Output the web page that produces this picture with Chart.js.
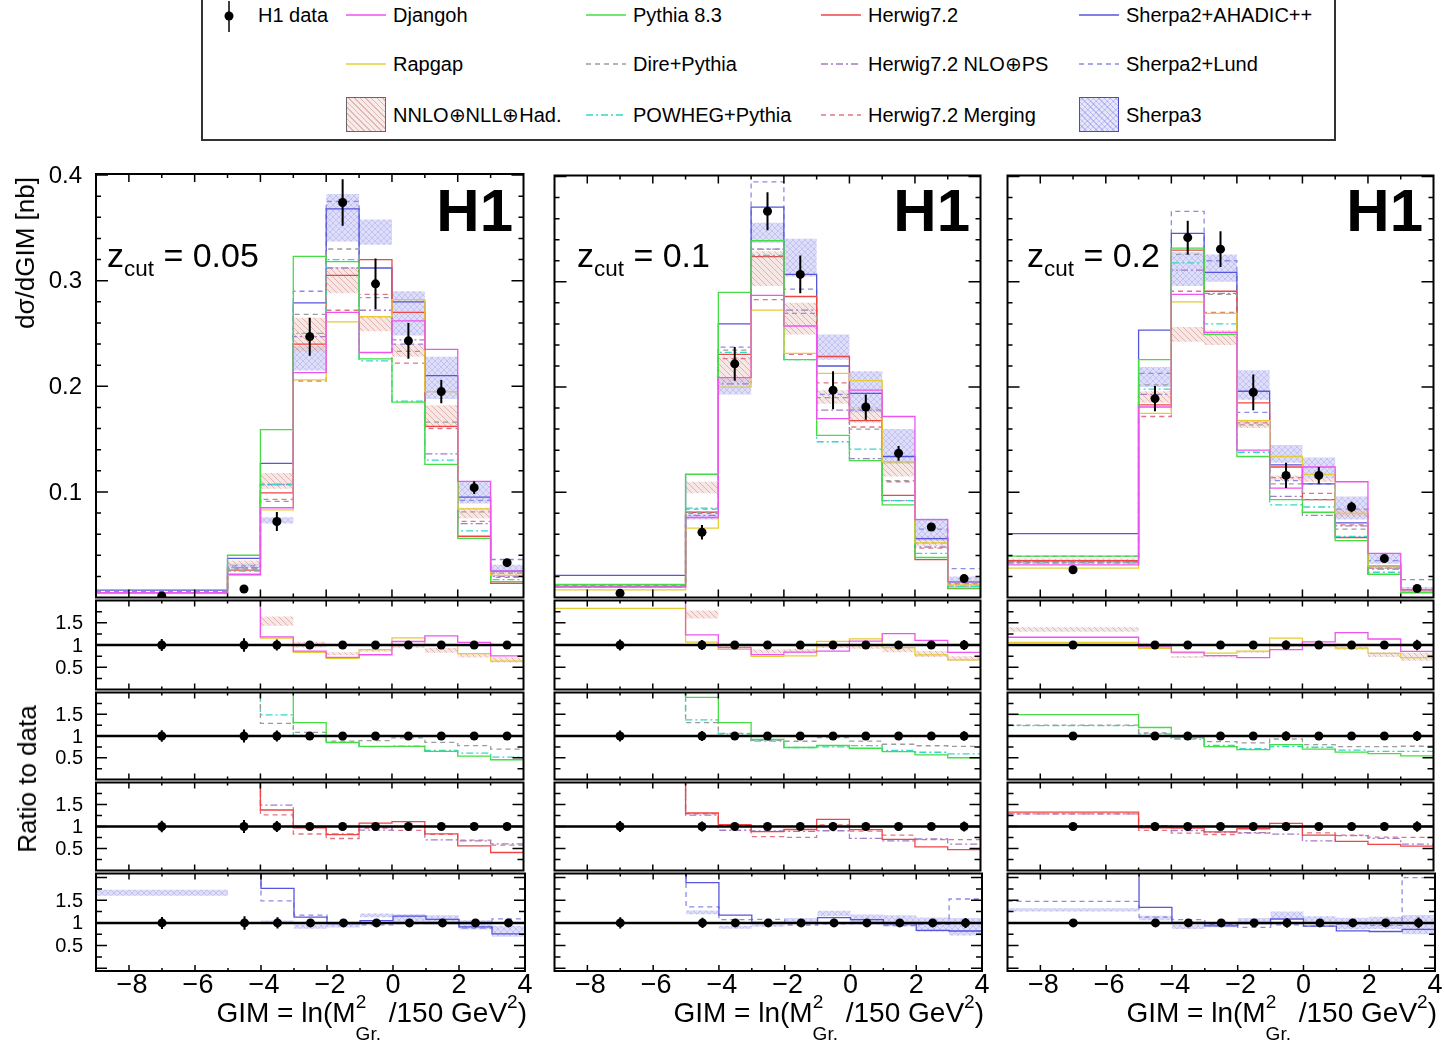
<!DOCTYPE html>
<html>
<head>
<meta charset="utf-8">
<script src="https://cdn.jsdelivr.net/npm/chart.js@4.4.1/dist/chart.umd.min.js"></script>
<style>
  html, body { margin: 0; padding: 0; background: #fff; }
  body { width: 1445px; height: 1042px; position: relative; overflow: hidden;
         font-family: "Liberation Sans", Arial, Helvetica, sans-serif; color: #000; }
  canvas { position: absolute; }
  .txt { position: absolute; white-space: nowrap; line-height: 1; z-index: 5; }
  .h1mark { font-weight: bold; font-size: 60px; }
  .zcut { font-size: 34px; }
  .zcut sub { font-size: 0.66em; vertical-align: -0.42em; line-height: 0; }
  .xtitle { font-size: 28px; }
  .xtitle sup { font-size: 0.68em; vertical-align: 0.75em; line-height: 0; }
  .xtitle sub { font-size: 0.68em; vertical-align: -0.95em; line-height: 0; }
  .ytitle { font-size: 26px; transform: translate(-50%, -50%) rotate(-90deg); }
  #legendBox { position: absolute; left: 201px; top: -2px; width: 1131px; height: 139px;
               border: 2px solid #333; z-index: 1; }
  .lg { position: absolute; font-size: 20px; line-height: 1; white-space: nowrap; z-index: 6; }
  .lgline { position: absolute; z-index: 6; }
  .lgbox { position: absolute; width: 38px; height: 33px; z-index: 6; }
</style>
</head>
<body>
<div id="legendBox"></div>
<script>
// ---------------- binning and tick labels ----------------
const binEdges   = [-9, -5, -4, -3, -2, -1, 0, 1, 2, 3, 4];
const binCenters = [-7, -4.5, -3.5, -2.5, -1.5, -0.5, 0.5, 1.5, 2.5, 3.5];
const xTickValues  = [-8, -6, -4, -2, 0, 2, 4];
const xTickLabels  = ['\u22128', '\u22126', '\u22124', '\u22122', '0', '2', '4'];
const mainTickValues  = [0.1, 0.2, 0.3, 0.4];
const mainTickLabels  = ['0.1', '0.2', '0.3', '0.4'];
const ratioTickValues = [0.5, 1, 1.5];
const ratioTickLabels = ['0.5', '1', '1.5'];
const zcutLabels = ['0.05', '0.1', '0.2'];

// ---------------- z_cut = 0.05 ----------------
const h1Z005           = [0.0015, 0.008, 0.072, 0.247, 0.374, 0.297, 0.243, 0.195, 0.104, 0.033];
const h1ErrZ005        = [0.0002, 0.0012, 0.009, 0.018, 0.022, 0.024, 0.017, 0.011, 0.006, 0.002];
const djangohZ005      = [0.0045, 0.022, 0.085, 0.213, 0.270, 0.232, 0.262, 0.235, 0.110, 0.025];
const rapgapZ005       = [0.0042, 0.021, 0.083, 0.206, 0.261, 0.266, 0.282, 0.195, 0.084, 0.021];
const nnloLoZ005       = [0.0040, 0.031, 0.103, 0.233, 0.288, 0.252, 0.228, 0.161, 0.075, 0.020];
const nnloHiZ005       = [0.0046, 0.035, 0.118, 0.265, 0.313, 0.266, 0.240, 0.182, 0.085, 0.024];
const pythiaZ005       = [0.0045, 0.040, 0.159, 0.323, 0.318, 0.226, 0.185, 0.126, 0.056, 0.015];
const direZ005         = [0.0045, 0.027, 0.093, 0.268, 0.330, 0.266, 0.233, 0.166, 0.081, 0.023];
const powhegZ005       = [0.0042, 0.025, 0.107, 0.250, 0.320, 0.224, 0.186, 0.130, 0.063, 0.017];
const herwigZ005       = [0.0045, 0.026, 0.099, 0.240, 0.305, 0.320, 0.270, 0.162, 0.058, 0.0135];
const herwigNloZ005    = [0.0045, 0.028, 0.107, 0.247, 0.312, 0.272, 0.244, 0.136, 0.070, 0.020];
const herwigMergZ005   = [0.0045, 0.028, 0.091, 0.205, 0.272, 0.287, 0.222, 0.160, 0.072, 0.019];
const sherpaAhadicZ005 = [0.0070, 0.037, 0.127, 0.279, 0.368, 0.312, 0.280, 0.210, 0.095, 0.025];
const sherpaLundZ005   = [0.0055, 0.030, 0.107, 0.290, 0.375, 0.284, 0.240, 0.195, 0.092, 0.036];
const sherpa3LoZ005    = [0.0024, 0.028, 0.070, 0.215, 0.337, 0.334, 0.248, 0.188, 0.089, 0.023];
const sherpa3HiZ005    = [0.0026, 0.032, 0.076, 0.238, 0.382, 0.358, 0.290, 0.228, 0.110, 0.031];

// ---------------- z_cut = 0.1 ----------------
const h1Z01           = [0.004, 0.062, 0.222, 0.367, 0.307, 0.197, 0.181, 0.137, 0.067, 0.018];
const h1ErrZ01        = [0.0005, 0.007, 0.016, 0.018, 0.018, 0.018, 0.012, 0.007, 0.003, 0.002];
const djangohZ01      = [0.0100, 0.076, 0.209, 0.287, 0.258, 0.170, 0.197, 0.172, 0.074, 0.015];
const rapgapZ01       = [0.0073, 0.066, 0.200, 0.273, 0.232, 0.213, 0.206, 0.129, 0.052, 0.012];
const nnloLoZ01       = [0.0095, 0.099, 0.204, 0.296, 0.250, 0.184, 0.166, 0.115, 0.049, 0.0115];
const nnloHiZ01       = [0.0105, 0.110, 0.229, 0.329, 0.280, 0.197, 0.181, 0.129, 0.058, 0.0135];
const pythiaZ01       = [0.0125, 0.117, 0.290, 0.339, 0.226, 0.154, 0.130, 0.088, 0.038, 0.009];
const direZ01         = [0.0105, 0.081, 0.235, 0.331, 0.270, 0.190, 0.160, 0.111, 0.052, 0.0137];
const powhegZ01       = [0.0100, 0.085, 0.233, 0.325, 0.226, 0.148, 0.141, 0.092, 0.042, 0.0106];
const herwigZ01       = [0.0105, 0.081, 0.231, 0.324, 0.286, 0.229, 0.168, 0.097, 0.036, 0.0085];
const herwigNloZ01    = [0.0105, 0.078, 0.203, 0.331, 0.273, 0.178, 0.132, 0.092, 0.048, 0.0108];
const herwigMergZ01   = [0.0105, 0.080, 0.227, 0.283, 0.231, 0.204, 0.162, 0.110, 0.047, 0.0126];
const sherpaAhadicZ01 = [0.0210, 0.117, 0.260, 0.371, 0.307, 0.220, 0.194, 0.134, 0.056, 0.0148];
const sherpaLundZ01   = [0.0110, 0.084, 0.238, 0.395, 0.293, 0.193, 0.178, 0.129, 0.065, 0.0275];
const sherpa3LoZ01    = [0.0105, 0.074, 0.193, 0.337, 0.305, 0.226, 0.176, 0.127, 0.054, 0.013];
const sherpa3HiZ01    = [0.0115, 0.079, 0.208, 0.356, 0.341, 0.250, 0.215, 0.160, 0.075, 0.020];

// ---------------- z_cut = 0.2 ----------------
const h1Z02           = [0.0264, 0.189, 0.342, 0.331, 0.195, 0.116, 0.116, 0.086, 0.037, 0.0085];
const h1ErrZ02        = [0.0015, 0.012, 0.016, 0.017, 0.017, 0.012, 0.008, 0.005, 0.002, 0.001];
const djangohZ02      = [0.0310, 0.181, 0.288, 0.252, 0.140, 0.104, 0.124, 0.110, 0.042, 0.0073];
const rapgapZ02       = [0.0280, 0.175, 0.281, 0.270, 0.168, 0.134, 0.117, 0.080, 0.030, 0.0061];
const nnloLoZ02       = [0.0343, 0.185, 0.243, 0.240, 0.161, 0.111, 0.110, 0.077, 0.027, 0.0055];
const nnloHiZ02       = [0.0370, 0.196, 0.257, 0.254, 0.169, 0.116, 0.113, 0.083, 0.031, 0.0070];
const pythiaZ02       = [0.0394, 0.226, 0.332, 0.250, 0.134, 0.093, 0.081, 0.054, 0.022, 0.0046];
const direZ02         = [0.0330, 0.202, 0.326, 0.288, 0.164, 0.108, 0.093, 0.065, 0.028, 0.0065];
const powhegZ02       = [0.0327, 0.198, 0.318, 0.260, 0.138, 0.088, 0.086, 0.058, 0.024, 0.0055];
const herwigZ02       = [0.0350, 0.183, 0.330, 0.291, 0.185, 0.124, 0.093, 0.057, 0.022, 0.0047];
const herwigNloZ02    = [0.0340, 0.193, 0.311, 0.289, 0.168, 0.096, 0.078, 0.068, 0.027, 0.0051];
const herwigMergZ02   = [0.0340, 0.172, 0.291, 0.271, 0.166, 0.114, 0.099, 0.069, 0.028, 0.0064];
const sherpaAhadicZ02 = [0.0607, 0.254, 0.346, 0.309, 0.196, 0.126, 0.108, 0.071, 0.030, 0.0073];
const sherpaLundZ02   = [0.0390, 0.213, 0.367, 0.320, 0.176, 0.111, 0.108, 0.084, 0.035, 0.017];
const sherpa3LoZ02    = [0.0330, 0.200, 0.296, 0.300, 0.188, 0.128, 0.113, 0.074, 0.032, 0.0064];
const sherpa3HiZ02    = [0.0350, 0.219, 0.328, 0.326, 0.216, 0.145, 0.133, 0.096, 0.042, 0.0100];

// ---------------- grouping of the series per z_cut column ----------------
const columns = [
  { h1: h1Z005, err: h1ErrZ005, djangoh: djangohZ005, rapgap: rapgapZ005, nnloLo: nnloLoZ005, nnloHi: nnloHiZ005,
    pythia: pythiaZ005, dire: direZ005, powheg: powhegZ005, herwig: herwigZ005, herwigNlo: herwigNloZ005,
    herwigMerg: herwigMergZ005, sherpaAhadic: sherpaAhadicZ005, sherpaLund: sherpaLundZ005,
    sherpa3Lo: sherpa3LoZ005, sherpa3Hi: sherpa3HiZ005 },
  { h1: h1Z01, err: h1ErrZ01, djangoh: djangohZ01, rapgap: rapgapZ01, nnloLo: nnloLoZ01, nnloHi: nnloHiZ01,
    pythia: pythiaZ01, dire: direZ01, powheg: powhegZ01, herwig: herwigZ01, herwigNlo: herwigNloZ01,
    herwigMerg: herwigMergZ01, sherpaAhadic: sherpaAhadicZ01, sherpaLund: sherpaLundZ01,
    sherpa3Lo: sherpa3LoZ01, sherpa3Hi: sherpa3HiZ01 },
  { h1: h1Z02, err: h1ErrZ02, djangoh: djangohZ02, rapgap: rapgapZ02, nnloLo: nnloLoZ02, nnloHi: nnloHiZ02,
    pythia: pythiaZ02, dire: direZ02, powheg: powhegZ02, herwig: herwigZ02, herwigNlo: herwigNloZ02,
    herwigMerg: herwigMergZ02, sherpaAhadic: sherpaAhadicZ02, sherpaLund: sherpaLundZ02,
    sherpa3Lo: sherpa3LoZ02, sherpa3Hi: sherpa3HiZ02 }
];

// ---------------- styles ----------------
const FONT = '"Liberation Sans", Arial, Helvetica, sans-serif';
const lineStyles = {
  djangoh:      { color: '#ee55ee', dash: [] },
  rapgap:       { color: '#e6cc33', dash: [] },
  pythia:       { color: '#44dd44', dash: [] },
  dire:         { color: '#9c9c9c', dash: [5, 4] },
  powheg:       { color: '#33d8c8', dash: [7, 3, 2, 3] },
  herwig:       { color: '#ee4646', dash: [] },
  herwigNlo:    { color: '#a27cc4', dash: [7, 3, 2, 3] },
  herwigMerg:   { color: '#e07484', dash: [5, 4] },
  sherpaAhadic: { color: '#5656dc', dash: [] },
  sherpaLund:   { color: '#8a8ae8', dash: [5, 4] }
};

function makeHatch(fill, stroke, cross) {
  const s = 6;
  const c = document.createElement('canvas');
  c.width = s; c.height = s;
  const g = c.getContext('2d');
  g.fillStyle = fill; g.fillRect(0, 0, s, s);
  g.strokeStyle = stroke; g.lineWidth = 1;
  g.beginPath();
  for (let k = -1; k <= 1; k++) {
    g.moveTo(k * s, 0); g.lineTo(k * s + s, s);
    if (cross) { g.moveTo(k * s, s); g.lineTo(k * s + s, 0); }
  }
  g.stroke();
  return g.createPattern(c, 'repeat');
}
const bandStyles = {
  nnlo:    makeHatch('rgba(230,185,178,0.35)', 'rgba(195,120,112,0.45)', false),
  sherpa3: makeHatch('rgba(155,155,236,0.33)', 'rgba(115,115,226,0.25)', true)
};

// ---------------- panel geometry (pixels of the plotting frames) ----------------
const colX = [[96, 525], [553, 982], [1006, 1435]];
const rowY = [[174, 599], [599, 691], [691, 781], [781, 872], [872, 971]];
const rowRange = [[0, 0.401], [0, 2], [0, 2], [0, 2], [-0.06, 2.09]];
const ratioGroups = [
  { lines: ['djangoh', 'rapgap'], band: 'nnlo' },
  { lines: ['pythia', 'dire', 'powheg'] },
  { lines: ['herwig', 'herwigNlo', 'herwigMerg'] },
  { lines: ['sherpaAhadic', 'sherpaLund'], band: 'sherpa3' }
];
const mainLines = ['djangoh', 'rapgap', 'pythia', 'dire', 'powheg', 'herwig', 'herwigNlo', 'herwigMerg', 'sherpaAhadic', 'sherpaLund'];

// histogram outline points: each value is held from its lower bin edge to the next edge
function stepPoints(vals, ref) {
  const pts = vals.map((v, i) => ({ x: binEdges[i], y: ref ? v / ref[i] : v }));
  pts.push({ x: binEdges[binEdges.length - 1], y: pts[pts.length - 1].y });
  return pts;
}

function lineDataset(vals, ref, key) {
  const st = lineStyles[key];
  return { data: stepPoints(vals, ref), stepped: 'before', borderColor: st.color, borderDash: st.dash,
           borderWidth: 1.3, pointRadius: 0, fill: false, order: 1 };
}
function bandDatasets(lo, hi, ref, key) {
  return [
    { data: stepPoints(lo, ref), stepped: 'before', borderWidth: 0, borderColor: 'rgba(0,0,0,0)',
      pointRadius: 0, fill: false, order: 2 },
    { data: stepPoints(hi, ref), stepped: 'before', borderWidth: 0, borderColor: 'rgba(0,0,0,0)',
      pointRadius: 0, fill: '-1', backgroundColor: bandStyles[key], order: 2 }
  ];
}
function dataDataset(col, ratio) {
  return { data: binCenters.map((c, i) => ({ x: c, y: ratio ? col.h1[i] / col.h1[i] : col.h1[i] })),
           errors: col.err.map((e, i) => ratio ? e / col.h1[i] : e),
           isData: true, showLine: false, pointRadius: 4.5, pointHoverRadius: 4.5,
           pointBackgroundColor: '#000', pointBorderColor: '#000', pointBorderWidth: 0, order: 0 };
}

// ---------------- frame, inward ticks, tick labels, error bars ----------------
const rootFrame = {
  id: 'rootFrame',
  beforeDatasetDraw(chart, args, opts) {
    const ds = chart.data.datasets[args.index];
    if (!ds.isData) return;
    const { ctx, chartArea: a } = chart;
    const xs = chart.scales.x, ys = chart.scales.y;
    ctx.save();
    ctx.beginPath(); ctx.rect(a.left, a.top, a.width, a.height); ctx.clip();
    ctx.strokeStyle = '#000';
    if (opts.unity) {
      ctx.lineWidth = 2.6;
      const py = ys.getPixelForValue(1);
      ctx.beginPath(); ctx.moveTo(a.left, py); ctx.lineTo(a.right, py); ctx.stroke();
    }
    ctx.lineWidth = 2;
    ds.data.forEach((p, i) => {
      const e = ds.errors[i];
      const px = xs.getPixelForValue(p.x);
      ctx.beginPath();
      ctx.moveTo(px, ys.getPixelForValue(p.y - e));
      ctx.lineTo(px, ys.getPixelForValue(p.y + e));
      ctx.stroke();
    });
    ctx.restore();
  },
  afterDraw(chart, args, opts) {
    const { ctx, chartArea: a } = chart;
    const xs = chart.scales.x, ys = chart.scales.y;
    ctx.save();
    ctx.strokeStyle = '#000';
    ctx.lineWidth = 1.5;
    ctx.beginPath();
    for (let v = Math.ceil(xs.min) + (Number.isInteger(xs.min) ? 1 : 0); v < xs.max; v++) {
      const px = xs.getPixelForValue(v);
      const len = v % 2 === 0 ? opts.xMajor : opts.xMinor;
      ctx.moveTo(px, a.bottom); ctx.lineTo(px, a.bottom - len);
      ctx.moveTo(px, a.top); ctx.lineTo(px, a.top + len);
    }
    const k0 = Math.ceil(ys.min / opts.yStep - 1e-9), k1 = Math.floor(ys.max / opts.yStep + 1e-9);
    for (let k = k0; k <= k1; k++) {
      const v = k * opts.yStep;
      const py = ys.getPixelForValue(v);
      if (py > a.bottom - 1 || py < a.top + 1) continue;
      const len = k % opts.yEvery === 0 ? opts.yMajor : opts.yMinor;
      ctx.moveTo(a.left, py); ctx.lineTo(a.left + len, py);
      ctx.moveTo(a.right, py); ctx.lineTo(a.right - len, py);
    }
    ctx.stroke();
    ctx.lineWidth = 2;
    ctx.strokeRect(a.left, a.top, a.width, a.height);
    ctx.fillStyle = '#000';
    if (opts.yLabels) {
      ctx.font = opts.yFont + 'px ' + FONT;
      ctx.textAlign = 'right'; ctx.textBaseline = 'middle';
      opts.yLabels.values.forEach((v, i) => {
        ctx.fillText(opts.yLabels.texts[i], a.left - opts.yGap, ys.getPixelForValue(v) + 1);
      });
    }
    if (opts.xLabels) {
      ctx.font = opts.xFont + 'px ' + FONT;
      ctx.textAlign = 'center'; ctx.textBaseline = 'middle';
      xTickValues.forEach((v, i) => {
        const shift = v < 0 ? 3 : 0;
        ctx.fillText(xTickLabels[i], xs.getPixelForValue(v) + shift, a.bottom + 15);
      });
    }
    ctx.restore();
  }
};

function makePanel(ci, ri) {
  const col = columns[ci];
  const [x0, x1] = colX[ci], [y0, y1] = rowY[ri];
  const pad = { left: ci === 0 ? 72 : 3, right: ri === 4 ? 12 : 3,
                top: (ri === 0 && ci === 0) ? 14 : 3, bottom: ri === 4 ? 40 : 3 };
  const cv = document.createElement('canvas');
  cv.width = x1 - x0 + pad.left + pad.right;
  cv.height = y1 - y0 + pad.top + pad.bottom;
  cv.style.left = (x0 - pad.left) + 'px';
  cv.style.top = (y0 - pad.top) + 'px';
  cv.style.width = cv.width + 'px';
  cv.style.height = cv.height + 'px';
  document.body.appendChild(cv);

  const datasets = [];
  const ratio = ri > 0;
  const ref = ratio ? col.h1 : null;
  if (!ratio) {
    datasets.push(...bandDatasets(col.nnloLo, col.nnloHi, null, 'nnlo'));
    datasets.push(...bandDatasets(col.sherpa3Lo, col.sherpa3Hi, null, 'sherpa3'));
    mainLines.forEach(k => datasets.push(lineDataset(col[k], null, k)));
  } else {
    const grp = ratioGroups[ri - 1];
    if (grp.band) datasets.push(...bandDatasets(col[grp.band + 'Lo'], col[grp.band + 'Hi'], ref, grp.band));
    grp.lines.forEach(k => datasets.push(lineDataset(col[k], ref, k)));
  }
  datasets.push(dataDataset(col, ratio));

  const frameOpts = ratio
    ? { unity: true, xMajor: 6, xMinor: 3, yStep: 0.25, yEvery: 2, yMajor: 11, yMinor: 6 }
    : { unity: false, xMajor: 8, xMinor: 4, yStep: 0.02, yEvery: 5, yMajor: 12, yMinor: 5 };
  if (ci === 0) {
    frameOpts.yLabels = ratio ? { values: ratioTickValues, texts: ratioTickLabels }
                              : { values: mainTickValues, texts: mainTickLabels };
    frameOpts.yFont = ratio ? 20 : 24;
    frameOpts.yGap = ratio ? 13 : 14;
  }
  if (ri === 4) { frameOpts.xLabels = true; frameOpts.xFont = 27; }

  new Chart(cv, {
    type: 'line',
    data: { datasets },
    options: {
      responsive: false, animation: false, devicePixelRatio: 1, events: [],
      layout: { padding: pad },
      scales: {
        x: { type: 'linear', min: binEdges[0], max: binEdges[binEdges.length - 1], display: false },
        y: { type: 'linear', min: rowRange[ri][0], max: rowRange[ri][1], display: false }
      },
      plugins: { legend: { display: false }, tooltip: { enabled: false }, rootFrame: frameOpts }
    },
    plugins: [rootFrame]
  });
}

for (let ci = 0; ci < 3; ci++) for (let ri = 0; ri < 5; ri++) makePanel(ci, ri);

// ---------------- text annotations ----------------
function addText(html, cls, style) {
  const d = document.createElement('div');
  d.className = 'txt ' + cls;
  d.innerHTML = html;
  Object.assign(d.style, style);
  document.body.appendChild(d);
  return d;
}
const h1Right = [513, 970, 1423];
const zcutLeft = [107, 577, 1027];
for (let ci = 0; ci < 3; ci++) {
  addText('H1', 'h1mark', { right: (1445 - h1Right[ci]) + 'px', top: '181px' });
  addText('z<sub>cut</sub> = ' + zcutLabels[ci], 'zcut', { left: zcutLeft[ci] + 'px', top: '238px' });
  addText('GIM = ln(M<sup>2</sup><sub style="margin-left:-0.56em">Gr.</sub> /150 GeV<sup>2</sup>)', 'xtitle',
          { right: (1445 - (colX[ci][1] + 2)) + 'px', top: '999px' });
}
addText('d\u03c3/dGIM [nb]', 'ytitle', { left: '25px', top: '253px' });
addText('Ratio to data', 'ytitle', { left: '27px', top: '779px' });

// ---------------- legend ----------------
const legendRows = [15, 64, 115];
const legendSampleX = [346, 586, 821, 1079];
const legendTextX = [393, 633, 868, 1126];
const legendEntries = [
  { text: 'Djangoh', key: 'djangoh', c: 0, r: 0 },
  { text: 'Pythia 8.3', key: 'pythia', c: 1, r: 0 },
  { text: 'Herwig7.2', key: 'herwig', c: 2, r: 0 },
  { text: 'Sherpa2+AHADIC++', key: 'sherpaAhadic', c: 3, r: 0 },
  { text: 'Rapgap', key: 'rapgap', c: 0, r: 1 },
  { text: 'Dire+Pythia', key: 'dire', c: 1, r: 1 },
  { text: 'Herwig7.2 NLO\u2295PS', key: 'herwigNlo', c: 2, r: 1 },
  { text: 'Sherpa2+Lund', key: 'sherpaLund', c: 3, r: 1 },
  { text: 'NNLO\u2295NLL\u2295Had.', band: 'nnlo', c: 0, r: 2 },
  { text: 'POWHEG+Pythia', key: 'powheg', c: 1, r: 2 },
  { text: 'Herwig7.2 Merging', key: 'herwigMerg', c: 2, r: 2 },
  { text: 'Sherpa3', band: 'sherpa3', c: 3, r: 2 }
];
function legendText(text, x, cy) {
  const d = document.createElement('div');
  d.className = 'lg'; d.textContent = text;
  d.style.left = x + 'px'; d.style.top = (cy - 9.8) + 'px';
  document.body.appendChild(d);
}
const bandCss = {
  nnlo: { background: 'repeating-linear-gradient(45deg, rgba(190,115,105,0.5) 0 1px, rgba(238,210,205,0.45) 1px 4px)', border: '1.5px solid #666' },
  sherpa3: { background: 'repeating-linear-gradient(45deg, rgba(110,110,226,0.35) 0 1px, transparent 1px 4px), repeating-linear-gradient(-45deg, rgba(110,110,226,0.35) 0 1px, rgba(185,185,240,0.35) 1px 4px)', border: '1.5px solid #4a4acc' }
};
legendEntries.forEach(e => {
  const cy = legendRows[e.r];
  if (e.band) {
    const b = document.createElement('div');
    b.className = 'lgbox';
    b.style.left = legendSampleX[e.c] + 'px';
    b.style.top = (cy - 18) + 'px';
    Object.assign(b.style, bandCss[e.band]);
    document.body.appendChild(b);
  } else {
    const st = lineStyles[e.key];
    const ns = 'http://www.w3.org/2000/svg';
    const svg = document.createElementNS(ns, 'svg');
    svg.setAttribute('class', 'lgline');
    svg.setAttribute('width', '40'); svg.setAttribute('height', '6');
    svg.style.left = legendSampleX[e.c] + 'px'; svg.style.top = (cy - 3) + 'px';
    const ln = document.createElementNS(ns, 'line');
    ln.setAttribute('x1', '0'); ln.setAttribute('y1', '3'); ln.setAttribute('x2', '40'); ln.setAttribute('y2', '3');
    ln.setAttribute('stroke', st.color); ln.setAttribute('stroke-width', '1.5');
    if (st.dash.length) ln.setAttribute('stroke-dasharray', st.dash.join(','));
    svg.appendChild(ln);
    document.body.appendChild(svg);
  }
  legendText(e.text, legendTextX[e.c], cy);
});
// H1 data marker in the legend
(function () {
  const ns = 'http://www.w3.org/2000/svg';
  const svg = document.createElementNS(ns, 'svg');
  svg.setAttribute('class', 'lgline');
  svg.setAttribute('width', '12'); svg.setAttribute('height', '34');
  svg.style.left = '223px'; svg.style.top = '0px';
  svg.innerHTML = '<line x1="6" y1="1" x2="6" y2="32" stroke="#000" stroke-width="1.5"/><circle cx="6" cy="16" r="4.5" fill="#000"/>';
  document.body.appendChild(svg);
  legendText('H1 data', 258, legendRows[0]);
})();
</script>
</body>
</html>
